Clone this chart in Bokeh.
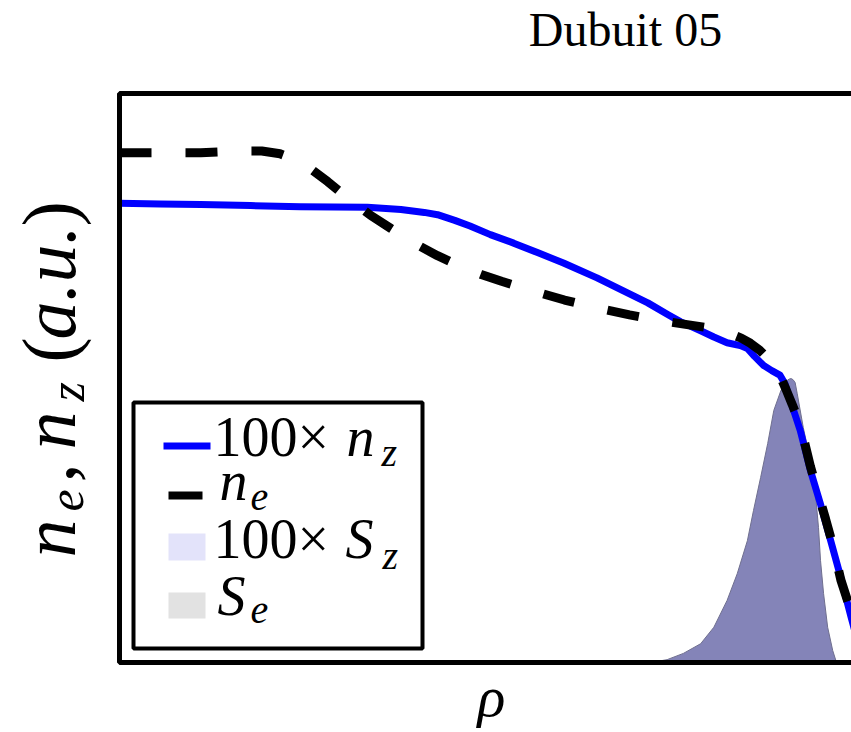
import math
from bokeh.plotting import figure
from bokeh.models import Range1d, Label, BoxAnnotation
from bokeh.embed import file_html
from bokeh.resources import INLINE

# ---------------- data ----------------
title_text = "Dubuit 05"
x_label = "ρ"

# 100 x n_z  (blue solid)
rho_nz = [0.000, 0.040, 0.080, 0.129, 0.178, 0.244, 0.277, 0.300, 0.313, 0.330,
          0.345, 0.365, 0.388, 0.412, 0.437, 0.470, 0.495, 0.520, 0.540, 0.552,
          0.572, 0.585, 0.598, 0.611, 0.618, 0.625, 0.634, 0.642, 0.650, 0.655,
          0.660, 0.665, 0.670, 0.680, 0.690, 0.700, 0.710, 0.720, 0.729]
nz_100 = [0.807, 0.806, 0.805, 0.803, 0.801, 0.800, 0.796, 0.791, 0.787, 0.777,
          0.767, 0.752, 0.737, 0.720, 0.702, 0.676, 0.654, 0.632, 0.611, 0.599,
          0.583, 0.572, 0.562, 0.557, 0.552, 0.538, 0.522, 0.513, 0.505, 0.490,
          0.462, 0.435, 0.408, 0.338, 0.278, 0.214, 0.149, 0.080, 0.021]

# n_e  (black dashed)
rho_ne = [0.000, 0.080, 0.120, 0.140, 0.158, 0.173, 0.188, 0.205, 0.222, 0.247,
          0.267, 0.291, 0.313, 0.336, 0.356, 0.376, 0.405, 0.438, 0.473, 0.502,
          0.532, 0.562, 0.584, 0.601, 0.612, 0.621, 0.630, 0.640, 0.648, 0.656,
          0.662, 0.670, 0.680, 0.688, 0.695, 0.702, 0.710, 0.720, 0.729]
ne = [0.896, 0.896, 0.899, 0.899, 0.894, 0.884, 0.868, 0.845, 0.820, 0.786,
      0.763, 0.736, 0.715, 0.696, 0.682, 0.670, 0.654, 0.637, 0.622, 0.611,
      0.601, 0.593, 0.587, 0.578, 0.570, 0.561, 0.549, 0.531, 0.513, 0.480,
      0.454, 0.418, 0.345, 0.295, 0.252, 0.207, 0.145, 0.090, 0.030]

# sources 100 x S_z and S_e (overlapping filled peaks)
rho_s = [0.523, 0.539, 0.555, 0.572, 0.585, 0.598, 0.608, 0.618, 0.624, 0.631,
         0.638, 0.644, 0.651, 0.656, 0.659, 0.661, 0.663, 0.665, 0.667, 0.673,
         0.680, 0.685, 0.688, 0.690, 0.693, 0.697, 0.702, 0.705, 0.708]
s_peak = [0.000, 0.005, 0.016, 0.033, 0.062, 0.109, 0.156, 0.214, 0.267, 0.325,
          0.385, 0.443, 0.478, 0.494, 0.498, 0.499, 0.497, 0.492, 0.473, 0.413,
          0.355, 0.297, 0.237, 0.179, 0.121, 0.062, 0.021, 0.004, 0.000]

# ---------------- layout helpers ----------------
W, H = 851, 732
FL, FT, FB = 119, 93, 662          # frame edges (pixels) in the reference
FR_FULL = 1135                      # right edge of the (cropped) frame
PX_PER_RHO = 1016.0
BASE_SHIFT = 0.38                   # alphabetic-baseline correction (in em)


def fx(px):
    return (px - FL) / PX_PER_RHO


def fy(py):
    return (FB - py) / (FB - FT)


p = figure(width=W, height=H, x_range=Range1d(fx(0), fx(W)), y_range=Range1d(fy(H), fy(0)),
           output_backend="svg", toolbar_location=None, title=None,
           x_axis_type=None, y_axis_type=None, min_border=0)
p.background_fill_color = "white"
p.border_fill_color = "white"
p.outline_line_color = None
p.grid.visible = False

# ---------------- marks ----------------
p.varea(x=rho_s, y1=0, y2=s_peak, fill_color="#8484b8", fill_alpha=1.0)
p.line(rho_s, s_peak, line_color="#6f6f8f", line_width=1)
p.line(rho_nz, nz_100, line_color="#0000ff", line_width=7, line_join="round")
p.line(rho_ne, ne, line_color="black", line_width=9, line_dash="32 34")

# plot frame (axes box, cropped on the right)
p.add_layout(BoxAnnotation(left=0, right=fx(FR_FULL), bottom=0, top=1,
                           fill_alpha=0.0, line_color="black", line_alpha=1.0,
                           line_width=5))

SERIF = "'Liberation Serif'"


def lab(px, py, text, size, style="normal", align="left", angle=0.0):
    shift = BASE_SHIFT * size
    if angle:
        px = px - shift
    else:
        py = py - shift
    p.add_layout(Label(x=fx(px), y=fy(py), text=text, text_font=SERIF,
                       text_font_size=f"{size}px", text_font_style=style,
                       text_align=align, text_baseline="alphabetic",
                       text_color="black", angle=angle))


# title and x label
lab(625, 47, title_text, 48, align="center")
lab(491, 718, x_label, 58, style="italic", align="center")

# y label: n_e , n_z (a.u.)  (rotated, reading upward)
R = math.pi / 2
lab(77, 557, "n", 76, "italic", angle=R)
lab(85, 511, "e", 50, "italic", angle=R)
lab(77, 482, ",", 76, angle=R)
lab(77, 449, "n", 76, "italic", angle=R)
lab(85, 401, "z", 50, "italic", angle=R)
lab(77, 362, "(", 76, angle=R)
lab(77, 339, "a.u.", 76, "italic", angle=R)
lab(77, 226, ")", 76, angle=R)

# ---------------- legend ----------------
p.add_layout(BoxAnnotation(left=fx(133), right=fx(422), top=fy(402), bottom=fy(648),
                           fill_color="white", fill_alpha=1.0,
                           line_color="black", line_alpha=1.0, line_width=4))
p.add_layout(BoxAnnotation(left=fx(163), right=fx(210), top=fy(442), bottom=fy(449),
                           fill_color="#0000ff", fill_alpha=1.0, line_color=None))
p.add_layout(BoxAnnotation(left=fx(168), right=fx(202), top=fy(491), bottom=fy(499),
                           fill_color="black", fill_alpha=1.0, line_color=None))
p.add_layout(BoxAnnotation(left=fx(168), right=fx(205), top=fy(533), bottom=fy(560),
                           fill_color="#e3e3fa", fill_alpha=1.0, line_color=None))
p.add_layout(BoxAnnotation(left=fx(168), right=fx(205), top=fy(592), bottom=fy(618),
                           fill_color="#e2e2e2", fill_alpha=1.0, line_color=None))

lab(213, 458, "100×", 56)
lab(346, 458, "n", 56, "italic")
lab(381, 467, "z", 40, "italic")

lab(219, 502, "n", 56, "italic")
lab(250, 512, "e", 40, "italic")

lab(213, 560, "100×", 56)
lab(345, 560, "S", 56, "italic")
lab(382, 570, "z", 40, "italic")

lab(217, 617, "S", 56, "italic")
lab(250, 625, "e", 40, "italic")

open("out.html", "w").write(file_html(p, INLINE))
